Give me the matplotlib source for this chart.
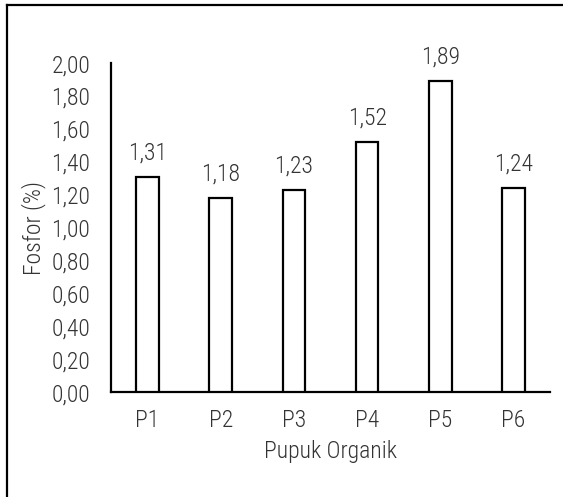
import matplotlib
matplotlib.use("Agg")
import matplotlib.pyplot as plt
from matplotlib import font_manager
from matplotlib.lines import Line2D

categories = ["P1", "P2", "P3", "P4", "P5", "P6"]
fosfor = [1.31, 1.18, 1.23, 1.52, 1.89, 1.24]
y_ticks = [0.0, 0.2, 0.4, 0.6, 0.8, 1.0, 1.2, 1.4, 1.6, 1.8, 2.0]

# narrow font like Arial Narrow if one is around
names = {f.name for f in font_manager.fontManager.ttflist}
family = next((n for n in ["Liberation Sans Narrow", "Roboto Condensed", "Liberation Sans"] if n in names), "DejaVu Sans")
plt.rcParams["font.family"] = [family, "DejaVu Sans"]
plt.rcParams["font.weight"] = "light"
plt.rcParams["axes.labelweight"] = "light"

TEXT = "#333333"
FS = 17


def fmt(v: float) -> str:
    return f"{v:.2f}".replace(".", ",")


fig = plt.figure(figsize=(5.63, 4.97), dpi=100)
ax = fig.add_axes([0.197, 0.211, 0.780, 0.662])

x = range(len(categories))
bars = ax.bar(x, fosfor, width=0.31, color="white", edgecolor="black", linewidth=1.6, zorder=3)
for b, v in zip(bars, fosfor):
    ax.annotate(fmt(v), (b.get_x() + b.get_width() / 2, v), xytext=(0, 9),
                textcoords="offset points", ha="center", va="bottom", fontsize=FS, color=TEXT)

ax.set_xlim(-0.5, len(categories) - 0.5)
ax.set_ylim(0, 2.0)
ax.set_yticks(y_ticks, [fmt(t) for t in y_ticks])
ax.set_xticks(list(x), categories)
ax.tick_params(axis="both", length=0, labelsize=FS, colors=TEXT)
ax.tick_params(axis="y", pad=15)
ax.tick_params(axis="x", pad=12)

for s in ["top", "right"]:
    ax.spines[s].set_visible(False)
for s in ["left", "bottom"]:
    ax.spines[s].set_linewidth(1.6)
    ax.spines[s].set_color("black")

ax.set_xlabel("Pupuk Organik", fontsize=FS, color=TEXT, labelpad=6, fontweight="light")
ax.set_ylabel("Fosfor (%)", fontsize=FS, color=TEXT, labelpad=4, fontweight="light")

# frame of the screenshot: only left and top edges show
fig.add_artist(Line2D([0.013, 0.013], [0.0, 0.99], transform=fig.transFigure, color="black", linewidth=1.6))
fig.add_artist(Line2D([0.012, 1.0], [0.99, 0.99], transform=fig.transFigure, color="black", linewidth=1.6))

fig.savefig("out.png", dpi=100, facecolor="white")
